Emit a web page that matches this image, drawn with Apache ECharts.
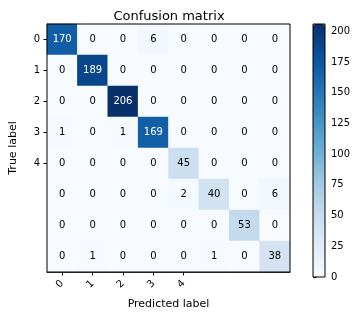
<!DOCTYPE html>
<html>
<head>
<meta charset="utf-8">
<script src="https://cdn.jsdelivr.net/npm/echarts@6/dist/echarts.min.js"></script>
<style>html,body{margin:0;padding:0;background:#fff}#c{width:355px;height:315px}</style>
</head>
<body>
<div id="c"></div>
<script>
var categories = ['0','1','2','3','4','5','6','7'];
var tickLabels = ['0','1','2','3','4'];
var row0 = [170,0,0,6,0,0,0,0];
var row1 = [0,189,0,0,0,0,0,0];
var row2 = [0,0,206,0,0,0,0,0];
var row3 = [1,0,1,169,0,0,0,0];
var row4 = [0,0,0,0,45,0,0,0];
var row5 = [0,0,0,0,2,40,0,6];
var row6 = [0,0,0,0,0,0,53,0];
var row7 = [0,1,0,0,0,1,0,38];
var colorbarTicks = [0,25,50,75,100,125,150,175,200];
var blues = ['#f7fbff','#deebf7','#c6dbef','#9ecae1','#6baed6','#4292c6','#2171b5','#08519c','#08306b'];

var matrix = [row0,row1,row2,row3,row4,row5,row6,row7];
var vmax = 0;
matrix.forEach(function(r){ r.forEach(function(v){ if (v > vmax) vmax = v; }); });
var data = [];
matrix.forEach(function(r, i){
  r.forEach(function(v, j){
    data.push({value:[j, i, v], label:{color: v > vmax/2 ? '#fff' : '#000'}});
  });
});
var font = 'DejaVu Sans';
var chart = echarts.init(document.getElementById('c'), null, {renderer:'canvas'});
chart.setOption({
  animation: false,
  textStyle: {fontFamily: font},
  title: {text: 'Confusion matrix', left: 164, top: 5, textAlign: 'center',
    textStyle: {fontFamily: font, fontSize: 13, fontWeight: 'normal', color: '#000'}},
  grid: [
    {left: 38, top: 24, width: 252, height: 253, show: true, borderColor: '#000', borderWidth: 1, backgroundColor: 'transparent', z: 10},
    {left: 313, top: 24, width: 12, height: 253, show: true, borderColor: '#000', borderWidth: 1, backgroundColor: 'transparent', z: 10}
  ],
  xAxis: [
    {type: 'category', data: categories, gridIndex: 0, position: 'bottom',
      name: 'Predicted label', nameLocation: 'middle', nameGap: 27,
      nameTextStyle: {fontFamily: font, fontSize: 11, color: '#000'},
      axisLine: {show: true, lineStyle: {color: '#000'}},
      splitLine: {show: false},
      axisTick: {show: true, alignWithLabel: true, length: 3.5, lineStyle: {color: '#000'},
        interval: function(i){ return i < tickLabels.length; }},
      axisLabel: {rotate: 45, margin: 10, fontFamily: font, fontSize: 10, color: '#000',
        interval: function(i){ return i < tickLabels.length; },
        formatter: function(v, i){ return i < tickLabels.length ? tickLabels[i] : ''; }}},
    {type: 'value', gridIndex: 1, show: false, min: 0, max: 1}
  ],
  yAxis: [
    {type: 'category', data: categories, gridIndex: 0, inverse: true,
      name: 'True label', nameLocation: 'middle', nameGap: 28, nameRotate: 90,
      nameTextStyle: {fontFamily: font, fontSize: 11, color: '#000'},
      axisLine: {show: true, lineStyle: {color: '#000'}},
      splitLine: {show: false},
      axisTick: {show: true, alignWithLabel: true, length: 3.5, lineStyle: {color: '#000'},
        interval: function(i){ return i < tickLabels.length; }},
      axisLabel: {margin: 7, fontFamily: font, fontSize: 10, color: '#000',
        interval: function(i){ return i < tickLabels.length; },
        formatter: function(v, i){ return i < tickLabels.length ? tickLabels[i] : ''; }}},
    {type: 'value', gridIndex: 1, position: 'right', min: 0, max: vmax,
      axisLine: {show: false},
      splitLine: {show: false},
      axisTick: {show: true, length: 3.5, lineStyle: {color: '#000'}, customValues: colorbarTicks},
      axisLabel: {margin: 6, fontFamily: font, fontSize: 10, color: '#000', customValues: colorbarTicks}}
  ],
  visualMap: {
    type: 'continuous', min: 0, max: vmax, seriesIndex: 0, calculable: false,
    orient: 'vertical', left: 313, top: 24, itemWidth: 12, itemHeight: 253,
    padding: 0, text: null, showLabel: false, hoverLink: false, z: 1,
    inRange: {color: blues}
  },
  series: [{
    type: 'heatmap', xAxisIndex: 0, yAxisIndex: 0, data: data,
    label: {show: true, fontFamily: font, fontSize: 10,
      formatter: function(p){ return String(p.value[2]); }},
    itemStyle: {borderWidth: 0},
    emphasis: {disabled: true}
  }]
});
</script>
</body>
</html>
